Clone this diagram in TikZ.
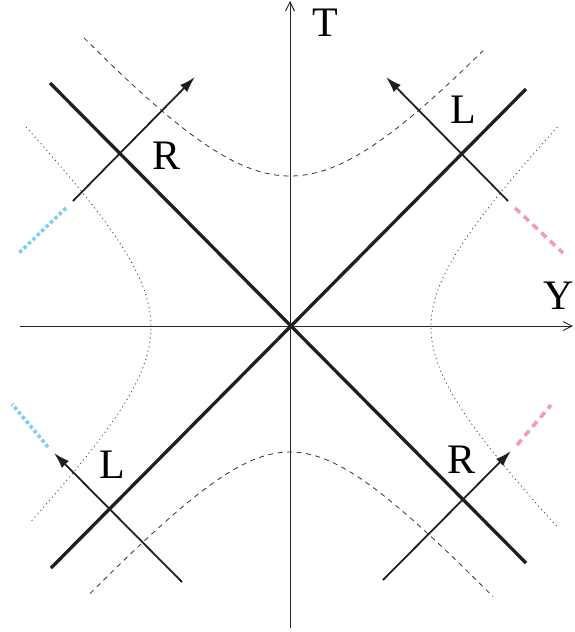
\documentclass[tikz,border=0pt]{standalone}
\usepackage{fontspec}
\newfontfamily\labfont{Liberation Serif}
\usetikzlibrary{arrows.meta}
\definecolor{skyb}{HTML}{7FCDF2}
\definecolor{pinkd}{HTML}{F49AC2}
\tikzset{
  axisline/.style={line width=0.9pt, black!85},
  thickline/.style={line width=3.3pt, black!88},
  worldline/.style={line width=1.8pt, black!88, -{Latex[length=16pt,width=10pt]}},
  hypdash/.style={line width=0.8pt, black!80, dash pattern=on 5pt off 4.5pt},
  hypdot/.style={line width=0.9pt, black!75, dash pattern=on 1pt off 3.4pt},
  blueext/.style={line width=3.6pt, skyb, dash pattern=on 3.5pt off 2.6pt},
  pinkext/.style={line width=3.6pt, pinkd, dash pattern=on 7pt off 5pt},
  lab/.style={font=\labfont\fontsize{42}{42}\selectfont, inner sep=0pt}
}
\begin{document}
\begin{tikzpicture}[x=1pt,y=-1pt]
\useasboundingbox (0,0) rectangle (574,632);
% axes
\coordinate (yl) at (20,326); \coordinate (yr) at (573,326);
\coordinate (tb) at (290,628); \coordinate (tt) at (290,1);
\draw[axisline, -{Straight Barb[length=9pt,width=9pt]}] (yl) -- (yr);
\draw[axisline, -{Straight Barb[length=9pt,width=9pt]}] (tb) -- (tt);
\node[lab] (T) at (325,23) {T};
\node[lab] (Y) at (559,296) {Y};
% light cone
\coordinate (a1) at (50,83); \coordinate (a2) at (526,563);
\coordinate (b1) at (526,89); \coordinate (b2) at (51,568);
\draw[thickline] (a1) -- (a2);
\draw[thickline] (b1) -- (b2);
% hyperbolas
\draw[hypdash] plot[domain=-206:193, samples=80, smooth]
  ({290+\x},{176-100*(sqrt(1.34*1.34+(1.15*\x/100)*(1.15*\x/100))-1.34)});
\draw[hypdash] plot[domain=-200:203, samples=80, smooth]
  ({290+\x},{452+100*(sqrt(1.0+(1.1*\x/100)*(1.1*\x/100))-1.0)});
\draw[hypdot] plot[domain=-200:195, samples=80, smooth]
  ({151-100*(sqrt(0.975*0.975+(\x/100)*(\x/100))-0.975)},{327+\x});
\draw[hypdot] plot[domain=-200:200, samples=80, smooth]
  ({431+100*(sqrt(0.95*0.95+(\x/100)*(\x/100))-0.95)},{327+\x});
% world lines
\coordinate (r1s) at (73,201); \coordinate (r1e) at (195,77);
\coordinate (l1s) at (508,201); \coordinate (l1e) at (386,77);
\coordinate (l2s) at (182,582); \coordinate (l2e) at (54,453);
\coordinate (r2s) at (383,580); \coordinate (r2e) at (511,451);
\draw[worldline] (r1s) -- (r1e);
\draw[worldline] (l1s) -- (l1e);
\draw[worldline] (l2s) -- (l2e);
\draw[worldline] (r2s) -- (r2e);
% extensions
\coordinate (bx1) at (66,208); \coordinate (bx2) at (19,253);
\coordinate (bx3) at (48,447); \coordinate (bx4) at (12,404);
\coordinate (px1) at (515,208); \coordinate (px2) at (563,253);
\coordinate (px3) at (517,445); \coordinate (px4) at (551,405);
\draw[blueext] (bx1) -- (bx2);
\draw[blueext] (bx3) -- (bx4);
\draw[pinkext] (px1) -- (px2);
\draw[pinkext] (px3) -- (px4);
% labels
\node[lab] (R1) at (167,156) {R};
\node[lab] (L1) at (463,110) {L};
\node[lab] (L2) at (112,465) {L};
\node[lab] (R2) at (462,460) {R};
\end{tikzpicture}
\end{document}
